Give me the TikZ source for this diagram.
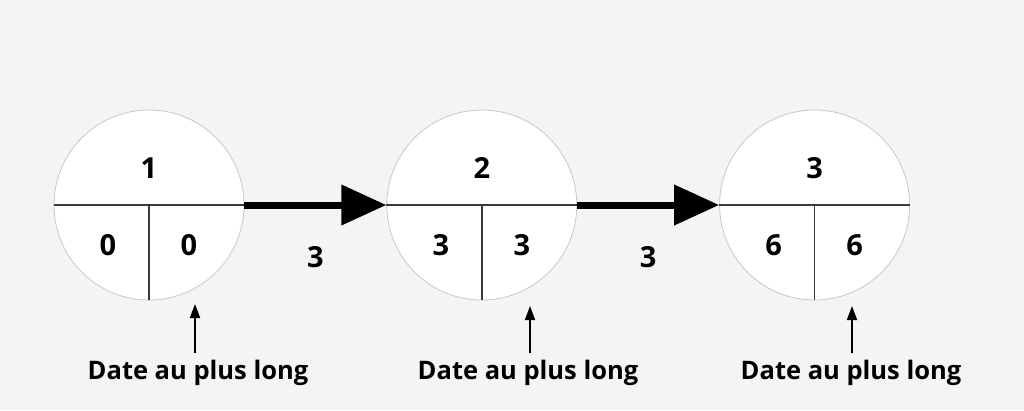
\documentclass[tikz,border=0pt]{standalone}
\usepackage{fontspec}
\setmainfont{Open Sans}
\usetikzlibrary{positioning,arrows.meta}
\definecolor{bgpage}{HTML}{F4F4F4}
\definecolor{rimgrey}{HTML}{C8C8C8}
\definecolor{splitgrey}{HTML}{3A3A3A}
\tikzset{
  evt/.style   ={circle, draw=rimgrey, line width=0.8pt, fill=white,
                 minimum size=190pt, inner sep=0pt},
  split/.style ={draw=splitgrey, line width=1.6pt},
  num/.style   ={font=\fontsize{29}{33}\selectfont\bfseries, inner sep=0pt},
  tag/.style   ={font=\fontsize{25.5}{30}\selectfont\bfseries, inner sep=0pt, anchor=base},
  link/.style  ={-{Triangle[length=45pt,width=39pt]}, line width=7pt},
  up/.style    ={-{Triangle[length=14pt,width=10pt]}, line width=1.8pt, shorten <=6pt}
}

\begin{document}
\begin{tikzpicture}[x=1pt,y=-1pt]
  \fill[bgpage] (0,0) rectangle (1024,410);
  \useasboundingbox (0,0) rectangle (1024,410);

  \node[evt] (c1) at (149,205) {};
  \node[evt,right=142pt of c1] (c2) {};
  \node[evt,right=142pt of c2] (c3) {};
  \foreach \c in {c1,c2,c3}{
    \draw[split] (\c.west) -- (\c.east);
    \draw[split] (\c.center) -- (\c.south);
  }

  \node[num] (n1) at ([yshift=37pt]c1.center) {1};
  \node[num] (e1) at ([xshift=-41pt,yshift=-40pt]c1.center) {0};
  \node[num] (l1) at ([xshift=40pt,yshift=-40pt]c1.center) {0};
  \node[num] (n2) at ([yshift=37pt]c2.center) {2};
  \node[num] (e2) at ([xshift=-41pt,yshift=-40pt]c2.center) {3};
  \node[num] (l2) at ([xshift=40pt,yshift=-40pt]c2.center) {3};
  \node[num] (n3) at ([yshift=37pt]c3.center) {3};
  \node[num] (e3) at ([xshift=-41pt,yshift=-40pt]c3.center) {6};
  \node[num] (l3) at ([xshift=40pt,yshift=-40pt]c3.center) {6};

  \draw[link] (c1.east) -- (c2.west) node[num,midway,below=38pt] (w1) {3};
  \draw[link] (c2.east) -- (c3.west) node[num,midway,below=38pt] (w2) {3};

  \node[tag] (d1) at (198,379) {Date au plus long};
  \node[tag] (d2) at (528,379) {Date au plus long};
  \node[tag] (d3) at (851,379) {Date au plus long};
  \coordinate (h1) at (195,304);
  \coordinate (h2) at (530,306);
  \coordinate (h3) at (852,306);
  \draw[up] (d1.north -| h1) -- (h1);
  \draw[up] (d2.north -| h2) -- (h2);
  \draw[up] (d3.north -| h3) -- (h3);
\end{tikzpicture}
\end{document}
